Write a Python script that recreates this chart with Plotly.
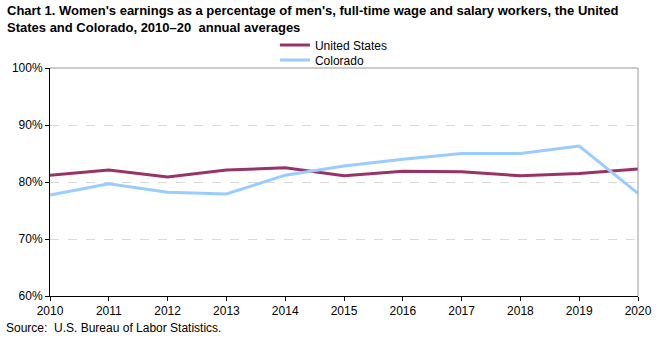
import plotly.graph_objects as go

years = [2010, 2011, 2012, 2013, 2014, 2015, 2016, 2017, 2018, 2019, 2020]
us_pct = [81.2, 82.1, 80.9, 82.1, 82.5, 81.1, 81.9, 81.8, 81.1, 81.5, 82.3]
co_pct = [77.7, 79.7, 78.2, 77.9, 81.2, 82.8, 84.0, 85.0, 85.0, 86.3, 78.0]
y_ticks = [60, 70, 80, 90, 100]
y_labels = ["60%", "70%", "80%", "90%", "100%"]

FONT = "Liberation Sans, Arial, sans-serif"
PLOT_W, PLOT_H = 596, 228

fig = go.Figure()
fig.add_trace(go.Scatter(x=years, y=us_pct, mode="lines", name="United States",
                         line=dict(color="#993366", width=3), legend="legend"))
fig.add_trace(go.Scatter(x=years, y=co_pct, mode="lines", name="Colorado",
                         line=dict(color="#99CCFF", width=3), legend="legend2"))

# grey frame on top and right of the plot area
fig.add_shape(type="line", xref="paper", yref="paper", x0=0, x1=1, y0=1, y1=1,
              line=dict(color="#999999", width=1))
fig.add_shape(type="line", xref="paper", yref="paper", x0=1, x1=1, y0=0, y1=1,
              line=dict(color="#999999", width=1))

legend_common = dict(xanchor="left", yanchor="middle", orientation="v",
                     font=dict(size=12, family=FONT), itemwidth=30,
                     bgcolor="rgba(0,0,0,0)", borderwidth=0)

fig.update_layout(
    width=664, height=337,
    margin=dict(l=45, r=23, t=68, b=41),
    paper_bgcolor="white", plot_bgcolor="white",
    font=dict(family=FONT, size=12, color="black"),
    showlegend=True,
    legend=dict(x=(273 - 45) / PLOT_W, y=(296 - 45) / PLOT_H, **legend_common),
    legend2=dict(x=(273 - 45) / PLOT_W, y=(296 - 60) / PLOT_H, **legend_common),
    xaxis=dict(range=[2010, 2020], tickvals=years, ticktext=[str(y) for y in years],
               showgrid=False, zeroline=False, showline=True, linecolor="black",
               linewidth=1, ticks="outside", ticklen=4, tickcolor="black",
               tickfont=dict(size=12)),
    yaxis=dict(range=[60, 100], tickvals=y_ticks, ticktext=y_labels,
               showgrid=True, gridcolor="#D9D9D9", griddash="dash", gridwidth=1,
               zeroline=False, showline=True, linecolor="black", linewidth=1,
               ticks="outside", ticklen=4, tickcolor="black",
               tickfont=dict(size=12)),
    annotations=[
        dict(text="<b>Chart 1. Women's earnings as a percentage of men's, full-time wage and salary workers, the United<br>States and Colorado, 2010\u201320  annual averages</b>",
             xref="paper", yref="paper", x=-46 / PLOT_W, y=1 + 67 / PLOT_H,
             xanchor="left", yanchor="top", align="left", showarrow=False,
             font=dict(size=13, family=FONT)),
        dict(text="Source:  U.S. Bureau of Labor Statistics.",
             xref="paper", yref="paper", x=-47 / PLOT_W, y=-23 / PLOT_H,
             xanchor="left", yanchor="top", align="left", showarrow=False,
             font=dict(size=12, family=FONT)),
    ],
)

fig.write_html("out.html")
